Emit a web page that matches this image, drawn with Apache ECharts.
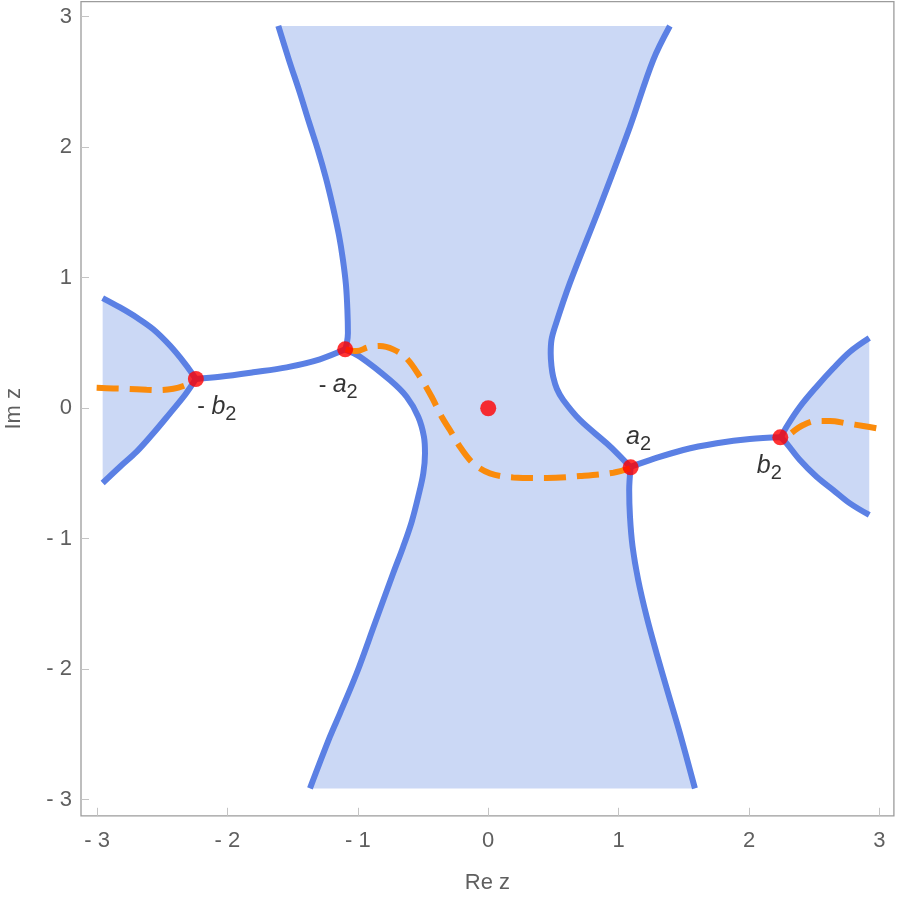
<!DOCTYPE html>
<html><head><meta charset="utf-8">
<script src="https://cdn.jsdelivr.net/npm/echarts@6/dist/echarts.min.js"></script>
<style>html,body{margin:0;padding:0;background:#fff}#c{width:899px;height:899px}</style>
</head><body><div id="c"></div>
<script>
// ---- data ----
const xTicks = [-3, -2, -1, 0, 1, 2, 3];
const yTicks = [-3, -2, -1, 0, 1, 2, 3];

// central region, left boundary, upper part (top -> -a2)
const leftUpper = [[-1.610,2.929],[-1.528,2.668],[-1.444,2.415],[-1.375,2.193],[-1.306,1.978],[-1.245,1.764],[-1.191,1.542],[-1.145,1.327],[-1.114,1.136],[-1.091,0.944],[-1.080,0.752],[-1.076,0.576],[-1.084,0.500],[-1.097,0.451]];
// central region, left boundary, lower part (-a2 -> bottom)
const leftLower = [[-1.097,0.451],[-0.984,0.395],[-0.754,0.216],[-0.626,0.088],[-0.537,-0.065],[-0.493,-0.218],[-0.485,-0.346],[-0.498,-0.499],[-0.537,-0.678],[-0.587,-0.870],[-0.652,-1.061],[-0.729,-1.265],[-0.869,-1.648],[-1.009,-2.031],[-1.137,-2.338],[-1.214,-2.517],[-1.367,-2.913]];
// central region, right boundary, upper part (top -> a2)
const rightUpper = [[1.393,2.929],[1.265,2.668],[1.087,2.157],[0.856,1.544],[0.625,0.957],[0.512,0.625],[0.485,0.523],[0.479,0.421],[0.485,0.323],[0.498,0.241],[0.527,0.147],[0.575,0.063],[0.703,-0.090],[0.908,-0.269],[1.002,-0.359],[1.092,-0.453]];
// central region, right boundary, lower part (a2 -> bottom)
const rightLower = [[1.092,-0.453],[1.081,-0.627],[1.087,-0.831],[1.107,-1.061],[1.150,-1.316],[1.215,-1.598],[1.291,-1.878],[1.380,-2.185],[1.470,-2.491],[1.585,-2.913]];
// left wedge
const wedgeLeftUpper = [[-2.957,0.844],[-2.824,0.772],[-2.696,0.695],[-2.569,0.605],[-2.441,0.480],[-2.326,0.342],[-2.242,0.224]];
const wedgeLeftLower = [[-2.242,0.224],[-2.326,0.101],[-2.441,-0.039],[-2.569,-0.192],[-2.696,-0.333],[-2.824,-0.448],[-2.957,-0.573]];
// right wedge
const wedgeRightUpper = [[2.245,-0.223],[2.288,-0.142],[2.390,0.011],[2.518,0.165],[2.646,0.306],[2.774,0.433],[2.922,0.538]];
const wedgeRightLower = [[2.245,-0.223],[2.288,-0.269],[2.390,-0.397],[2.518,-0.525],[2.646,-0.627],[2.774,-0.729],[2.922,-0.818]];
// connecting curves
const linkLeft = [[-2.242,0.224],[-2.058,0.241],[-1.802,0.275],[-1.546,0.313],[-1.291,0.375],[-1.097,0.451]];
const linkRight = [[1.094,-0.448],[1.240,-0.397],[1.495,-0.320],[1.752,-0.269],[2.006,-0.236],[2.245,-0.223]];
// orange dashed curves
const dashLeft = [[-3.003,0.157],[-2.876,0.152],[-2.773,0.149],[-2.620,0.142],[-2.518,0.139],[-2.415,0.149],[-2.326,0.175],[-2.257,0.208]];
const dashMid = [[-1.094,0.451],[-1.009,0.438],[-0.920,0.467],[-0.831,0.477],[-0.729,0.451],[-0.626,0.382],[-0.524,0.241],[-0.434,0.088],[-0.357,-0.065],[-0.294,-0.167],[-0.217,-0.295],[-0.115,-0.422],[0.013,-0.499],[0.192,-0.530],[0.448,-0.535],[0.703,-0.520],[0.959,-0.494],[1.087,-0.461]];
const dashRight = [[2.327,-0.188],[2.416,-0.129],[2.518,-0.098],[2.620,-0.098],[2.748,-0.116],[2.876,-0.136],[2.998,-0.157]];
// marked points
const pointNames = ['o', '-a', 'a', '-b', 'b'];
const pointValues = [[0,0],[-1.097,0.451],[1.092,-0.453],[-2.242,0.224],[2.240,-0.223]];

// ---- styles ----
const blue = '#5b80e4', fillColor = '#cbd8f5', orange = '#fa8b0c', red = '#ff0000';
const labelFmt = {
  'o': '',
  '-a': '{m|- }{i|a}{s|2}',
  'a': '{i|a}{s|2}',
  '-b': '{m|- }{i|b}{s|2}',
  'b': '{i|b}{s|2}'
};
const labelOffset = {'o':[0,0], '-a':[-7,36], 'a':[8,-30], '-b':[21,28], 'b':[-11,29]};
const richStyle = {
  m: {fontSize: 23, fontFamily: 'Liberation Sans', color: '#000', lineHeight: 34, verticalAlign: 'middle'},
  i: {fontSize: 25, fontFamily: 'Liberation Sans', fontStyle: 'italic', color: '#000', lineHeight: 34, verticalAlign: 'middle'},
  s: {fontSize: 20, fontFamily: 'Liberation Sans', color: '#000', lineHeight: 34, verticalAlign: 'bottom'}
};

const polygons = [
  leftUpper.concat(leftLower.slice(1), rightLower.slice().reverse(), rightUpper.slice().reverse().slice(1)),
  wedgeLeftUpper.concat(wedgeLeftLower.slice(1)),
  wedgeRightUpper.slice().reverse().concat(wedgeRightLower.slice(1))
];
const blueCurves = [leftUpper, leftLower, rightUpper, rightLower, wedgeLeftUpper, wedgeLeftLower, wedgeRightUpper, wedgeRightLower, linkLeft, linkRight];
const dashCurves = [dashLeft, dashMid, dashRight];

const tickFmt = v => (v < 0 ? '- ' + (-v) : String(v));
const axisFont = {fontSize: 22, fontFamily: 'Liberation Sans', color: '#5f5f5f'};

const chart = echarts.init(document.getElementById('c'), null, {renderer: 'canvas'});
const series = [];
series.push({
  type: 'custom',
  clip: true,
  silent: true,
  z: 1,
  data: polygons.map((p, i) => [i]),
  encode: {x: -1, y: -1},
  renderItem: function (params, api) {
    const poly = polygons[params.dataIndex];
    return {
      type: 'polygon',
      shape: {points: poly.map(p => api.coord(p))},
      style: {fill: fillColor, stroke: null}
    };
  }
});
blueCurves.forEach(c => series.push({
  type: 'line', data: c, showSymbol: false, smooth: 0.35, z: 3, silent: true,
  lineStyle: {color: blue, width: 6, cap: 'butt', join: 'round'}
}));
dashCurves.forEach(c => series.push({
  type: 'line', data: c, showSymbol: false, smooth: 0.35, z: 4, silent: true,
  lineStyle: {color: orange, width: 6, type: [22, 11], cap: 'butt'}
}));
series.push({
  type: 'scatter', z: 5, symbolSize: 16, silent: true,
  itemStyle: {color: red},
  data: pointValues.map((v, i) => ({
    value: v,
    label: {
      show: true, position: 'inside', offset: labelOffset[pointNames[i]],
      fontSize: 24, fontFamily: 'Liberation Sans', color: '#000',
      formatter: labelFmt[pointNames[i]], rich: richStyle
    }
  }))
});

chart.setOption({
  animation: false,
  backgroundColor: '#fff',
  grid: {left: 81, top: 1.7, width: 812.9, height: 814.1, show: true, containLabel: false, outerBoundsMode: 'none',
         borderColor: '#9c9c9c', borderWidth: 1.3, backgroundColor: 'transparent'},
  xAxis: {
    type: 'value', min: -3.123, max: 3.111,
    name: 'Re z', nameLocation: 'middle', nameGap: 56,
    nameTextStyle: axisFont,
    axisLine: {show: false, onZero: false},
    splitLine: {show: false},
    axisTick: {show: true, inside: true, length: 8, lineStyle: {color: '#c4c4c4', width: 1}, customValues: xTicks},
    axisLabel: Object.assign({margin: 14, formatter: tickFmt, customValues: xTicks}, axisFont)
  },
  yAxis: {
    type: 'value', min: -3.123, max: 3.115,
    name: 'Im z', nameLocation: 'middle', nameGap: 56, nameRotate: 90,
    nameTextStyle: axisFont,
    axisLine: {show: false, onZero: false},
    splitLine: {show: false},
    axisTick: {show: true, inside: true, length: 8, lineStyle: {color: '#c4c4c4', width: 1}, customValues: yTicks},
    axisLabel: Object.assign({margin: 9, formatter: tickFmt, customValues: yTicks}, axisFont)
  },
  series: series
});
</script>
</body></html>
